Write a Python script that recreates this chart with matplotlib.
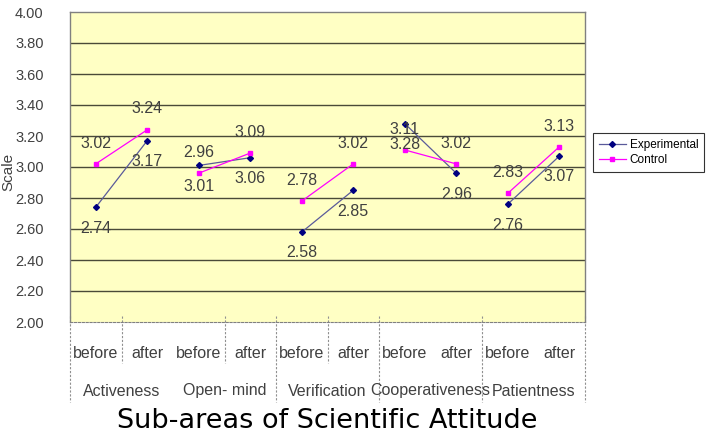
import matplotlib
matplotlib.use('Agg')
import matplotlib.pyplot as plt
from matplotlib.lines import Line2D

# data
groups = ['Activeness', 'Open- mind', 'Verification', 'Cooperativeness', 'Patientness']
phases = ['before', 'after']
experimental = [2.74, 3.17, 3.01, 3.06, 2.58, 2.85, 3.28, 2.96, 2.76, 3.07]
control = [3.02, 3.24, 2.96, 3.09, 2.78, 3.02, 3.11, 3.02, 2.83, 3.13]
yticks = [2.00, 2.20, 2.40, 2.60, 2.80, 3.00, 3.20, 3.40, 3.60, 3.80, 4.00]

LABEL_FONT = ['Liberation Sans', 'DejaVu Sans']
TXT = '#404040'

fig = plt.figure(figsize=(7.14, 4.38), dpi=100)
W, H = 714, 438
left, right, top, bottom = 70, 585, 12, 322
ax = fig.add_axes([left / W, 1 - bottom / H, (right - left) / W, (bottom - top) / H])
ax.set_facecolor('#FFFFC4')

n = len(experimental)
ax.set_xlim(-0.5, n - 0.5)
ax.set_ylim(2.0, 4.0)
ax.set_yticks(yticks)
ax.set_yticklabels([f'{v:.2f}' for v in yticks], family=LABEL_FONT, fontsize=10.5, color=TXT)
ax.tick_params(axis='y', length=0, pad=19)
ax.set_xticks([])
for y in yticks[1:-1]:
    ax.axhline(y, color='#4a4a38', lw=1.0, zorder=1)

for s in ['left', 'top', 'right']:
    ax.spines[s].set_color('#808080')
    ax.spines[s].set_linewidth(1.0)
ax.spines['bottom'].set_color('#808080')
ax.spines['bottom'].set_linestyle((0, (2, 1.5)))

# lines: each group drawn as its own before/after segment
for g in range(len(groups)):
    xs = [2 * g, 2 * g + 1]
    ax.plot(xs, experimental[2 * g:2 * g + 2], color='#5a5a9a', lw=0.9,
            marker='D', ms=3, mfc='#000080', mec='#000080', zorder=3)
    ax.plot(xs, control[2 * g:2 * g + 2], color='#FF00FF', lw=0.9,
            marker='s', ms=3.5, mfc='#FF00FF', mec='#FF00FF', zorder=3)

for i in range(n):
    ax.annotate(f'{experimental[i]:.2f}', (i, experimental[i]), xytext=(0, -15),
                textcoords='offset points', ha='center', va='center',
                family=LABEL_FONT, fontsize=11.5, color=TXT, zorder=4)
    ax.annotate(f'{control[i]:.2f}', (i, control[i]), xytext=(0, 15),
                textcoords='offset points', ha='center', va='center',
                family=LABEL_FONT, fontsize=11.5, color=TXT, zorder=4)

# two-level category axis below the plot area
trans = ax.get_xaxis_transform()
def fy(py):
    return 1 - (py - top) / (bottom - top)

for i in range(n):
    ax.text(i, fy(353), phases[i % 2], transform=trans, ha='center', va='center',
            family=LABEL_FONT, fontsize=11.5, color=TXT, clip_on=False)
for g, name in enumerate(groups):
    ax.text(2 * g + 0.5, fy(391), name, transform=trans, ha='center', va='center',
            family=LABEL_FONT, fontsize=11.5, color=TXT, clip_on=False)

short_sep = [1, 3, 5]
full_sep = [0, 4, 6, 8, 10]
for b in short_sep:
    ax.add_line(Line2D([b - 0.5, b - 0.5], [fy(316), fy(363)], transform=trans,
                       color='#909090', lw=0.8, ls=(0, (2, 1.5)), clip_on=False))
for b in full_sep:
    ax.add_line(Line2D([b - 0.5, b - 0.5], [fy(316), fy(402)], transform=trans,
                       color='#909090', lw=0.8, ls=(0, (2, 1.5)), clip_on=False))

fig.text(327 / W, 1 - 421 / H, 'Sub-areas of Scientific Attitude', ha='center', va='center',
         fontsize=19.5, color='black')
fig.text(8 / W, 1 - 172 / H, 'Scale', rotation=90, ha='center', va='center',
         family=LABEL_FONT, fontsize=11, color=TXT)

handles = [
    Line2D([], [], color='#5a5a9a', lw=0.9, marker='D', ms=3, mfc='#000080', mec='#000080'),
    Line2D([], [], color='#FF00FF', lw=0.9, marker='s', ms=3.5, mfc='#FF00FF', mec='#FF00FF'),
]
leg = fig.legend(handles, ['Experimental', 'Control'], loc='upper left',
                 bbox_to_anchor=(593 / W, 1 - 133 / H), borderaxespad=0, frameon=True,
                 fancybox=False, edgecolor='black', handlelength=2.3, handletextpad=0.3,
                 borderpad=0.5, labelspacing=0.3, prop={'family': LABEL_FONT, 'size': 8.5})
leg.get_frame().set_linewidth(0.8)

fig.savefig('out.png', dpi=100)
